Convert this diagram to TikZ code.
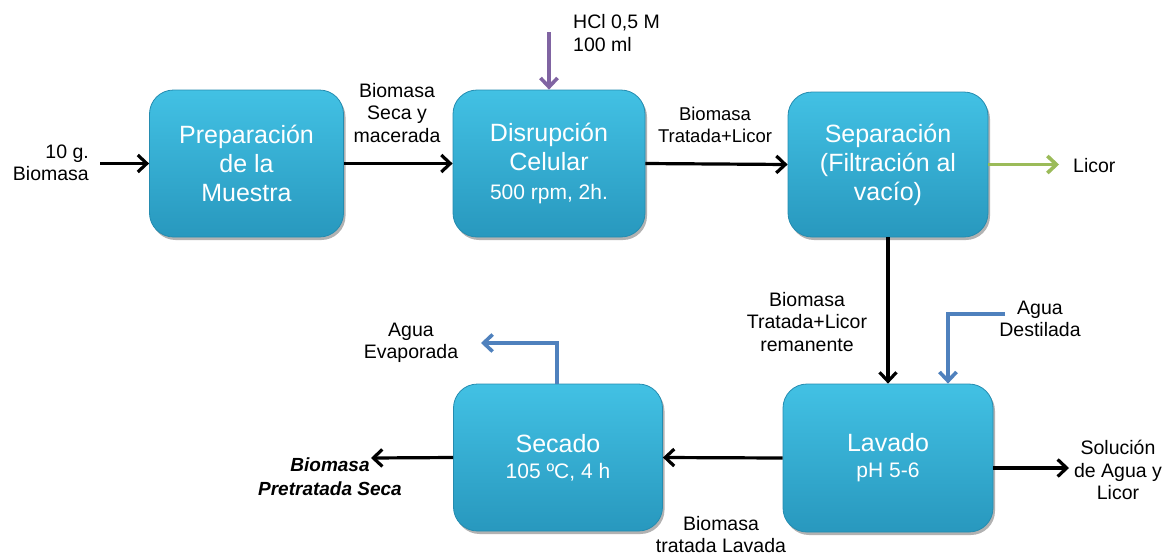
\documentclass[tikz,border=0pt]{standalone}
\usepackage{fontspec}
\setmainfont{Liberation Sans}
\usetikzlibrary{arrows.meta,shadows,calc}

\definecolor{boxtop}{RGB}{66,193,228}
\definecolor{boxbot}{RGB}{40,152,190}
\definecolor{boxline}{RGB}{36,140,176}
\definecolor{purp}{RGB}{128,100,162}
\definecolor{grn}{RGB}{155,187,89}
\definecolor{blu}{RGB}{79,129,189}

\begin{document}
\begin{tikzpicture}[x=1pt,y=-1pt,
  procbox/.style={rectangle, rounded corners=24pt, top color=boxtop, bottom color=boxbot,
    draw=boxline, line width=0.8pt, text=white, align=center, inner sep=0pt,
    font=\fontsize{25}{29}\selectfont,
    drop shadow={shadow xshift=2pt, shadow yshift=-3pt, opacity=0.3, fill=black}},
  lbl/.style={align=center, inner sep=0pt, font=\fontsize{19.5}{22.5}\selectfont},
  flow/.style={line width=3.2pt, -{Straight Barb[length=9pt,width=17pt,line width=3.2pt]}},
  colflow/.style={draw=#1, line width=3.6pt, -{Straight Barb[length=9pt,width=17pt,line width=3.6pt]}},
]
\useasboundingbox (0,0) rectangle (1175,555);

% process boxes
\node[procbox, minimum width=194pt, minimum height=147pt] (b1) at (246.5,163.5)
  {Preparación\\de la\\Muestra};
\node[procbox, minimum width=192pt, minimum height=147pt] (b2) at (549,163.5)
  {Disrupción\\Celular\\{\fontsize{21}{29}\selectfont 500 rpm, 2h.}};
\node[procbox, minimum width=200pt, minimum height=145pt] (b3) at (888,164.5)
  {Separación\\(Filtración al\\vacío)};
\node[procbox, minimum width=210pt, minimum height=148pt] (b4) at (888,458)
  {Lavado\\[-3pt]{\fontsize{21}{26}\selectfont pH 5-6}};
\node[procbox, minimum width=209pt, minimum height=147pt] (b5) at (558,457.5)
  {Secado\\[-3pt]{\fontsize{21}{26}\selectfont 105 ºC, 4 h}};

% labels
\node[lbl, align=right, anchor=east] (l10) at (89,163) {10 g.\\Biomasa};
\node[lbl] (lsec) at (397,113) {Biomasa\\Seca y\\macerada};
\node[lbl, align=left, anchor=west] (lhcl) at (573,33) {HCl 0,5 M\\100 ml};
\node[lbl, font=\fontsize{18.5}{21.5}\selectfont] (ltr) at (715,125) {Biomasa\\Tratada+Licor};
\node[lbl, anchor=west] (llic) at (1073,166) {Licor};
\node[lbl] (lrem) at (807,322) {Biomasa\\Tratada+Licor\\remanente};
\node[lbl] (ldes) at (1040,319) {Agua\\Destilada};
\node[lbl] (levap) at (411,343) {Agua\\Evaporada};
\node[lbl, font=\fontsize{19}{24}\selectfont\bfseries\itshape] (lpre) at (330,477) {Biomasa\\Pretratada Seca};
\node[lbl, font=\fontsize{19.5}{22}\selectfont] (llav) at (721,535) {Biomasa\\tratada Lavada};
\node[lbl] (lsol) at (1118,470) {Solución\\de Agua y\\Licor};

% free ends
\coordinate (in1) at (100,163.5);
\coordinate (hcl) at (549,32);
\coordinate (licend) at (1059,164.5);
\coordinate (desst) at (1005,314);
\coordinate (solend) at (1069,468);
\coordinate (outend) at (371,458);
\coordinate (evend) at (481,343);

% connectors
\draw[flow] (in1) -- (b1.west);
\draw[flow] (b1.east) -- (b2.west);
\draw[flow] (b2.east) -- (b3.west);
\draw[colflow=purp] (hcl) -- (b2.north);
\draw[colflow=grn] (b3.east) -- (licend);
\draw[flow] (b3.south) -- (b4.north);
\draw[colflow=blu] (desst) -| ([xshift=60pt]b4.north);
\draw[flow] ([yshift=-10pt]b4.east) -- (solend);
\draw[flow] (b4.west) -- (b5.east);
\draw[flow] (b5.west) -- (outend);
\draw[colflow=blu] ([xshift=-1pt]b5.north) |- (evend);
\end{tikzpicture}
\end{document}
